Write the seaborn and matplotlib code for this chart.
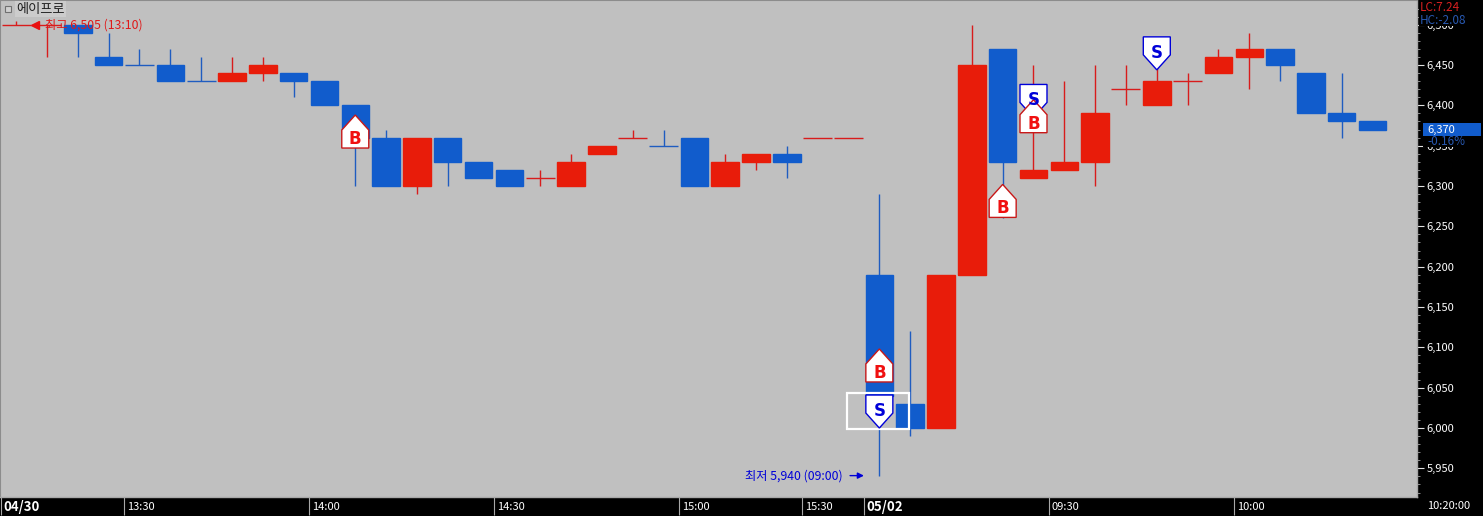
import numpy as np
import pandas as pd
import matplotlib
matplotlib.use("Agg")
import matplotlib.pyplot as plt
import seaborn as sns
from matplotlib.patches import Polygon, Rectangle

# 5 min candles, first one is 13:10 on 04/30
opens = [6500, 6500, 6500, 6460, 6450, 6450, 6430, 6430, 6440, 6440, 6430, 6400,
         6360, 6300, 6360, 6330, 6320, 6310, 6300, 6340, 6360, 6350, 6360, 6300,
         6330, 6340, 6360, 6360, 6190, 6030, 6000, 6190, 6470, 6310, 6320, 6330,
         6420, 6400, 6430, 6440, 6460, 6470, 6440, 6390, 6380]
closes = [6500, 6500, 6490, 6450, 6450, 6430, 6430, 6440, 6450, 6430, 6400, 6360,
          6300, 6360, 6330, 6310, 6300, 6310, 6330, 6350, 6360, 6350, 6300, 6330,
          6340, 6330, 6360, 6360, 6040, 6000, 6190, 6450, 6330, 6320, 6330, 6390,
          6420, 6430, 6430, 6460, 6470, 6450, 6390, 6380, 6370]
highs = [6505, 6500, 6500, 6490, 6470, 6470, 6460, 6460, 6460, 6440, 6430, 6400,
         6370, 6360, 6360, 6330, 6320, 6320, 6340, 6350, 6370, 6370, 6360, 6340,
         6340, 6350, 6360, 6360, 6290, 6120, 6190, 6500, 6470, 6450, 6430, 6450,
         6450, 6450, 6440, 6470, 6490, 6470, 6440, 6440, 6380]
lows = [6500, 6460, 6460, 6450, 6450, 6430, 6430, 6430, 6430, 6410, 6400, 6300,
        6300, 6290, 6300, 6310, 6300, 6300, 6300, 6340, 6360, 6350, 6300, 6300,
        6320, 6310, 6360, 6360, 5940, 5990, 6000, 6190, 6260, 6310, 6320, 6300,
        6400, 6400, 6400, 6440, 6420, 6430, 6390, 6360, 6370]
is_red = [1, 1, 0, 0, 0, 0, 0, 1, 1, 0, 0, 0,
          0, 1, 0, 0, 0, 1, 1, 1, 1, 0, 0, 1,
          1, 0, 1, 1, 0, 0, 1, 1, 0, 1, 1, 1,
          1, 1, 1, 1, 1, 0, 0, 0, 0]

buy_idx = [11, 28, 32, 33]
buy_tip = [6388, 6098, 6302, 6407]
sell_idx = [33, 28, 37]
sell_tip = [6385, 6000, 6444]

price_ticks = list(range(5950, 6501, 50))
price_labels = [f"{p:,}" for p in price_ticks]
time_idx = [0, 4, 10, 16, 22, 26, 28, 34, 40]
time_labels = ["04/30", "13:30", "14:00", "14:30", "15:00", "15:30", "05/02", "09:30", "10:00"]

RED = "#e81c0a"
BLUE = "#115ccc"
RED_WICK = "#d81c1c"
BLUE_WICK = "#1f5cc0"
SIG_BLUE = "#0000d8"
GREY = "#c0c0c0"
FONT = ["Noto Sans CJK KR", "DejaVu Sans"]

sns.set_theme(style="white")
plt.rcParams["font.family"] = FONT

W, H = 1483, 516
fig = plt.figure(figsize=(W / 100, H / 100), dpi=100, facecolor="black")
ax = fig.add_axes([0, 19 / H, 1417 / W, 497 / H], facecolor=GREY)

df = pd.DataFrame({"open": opens, "close": closes, "high": highs, "low": lows, "red": is_red})
df["idx"] = df.index
df["bottom"] = df[["open", "close"]].min(axis=1)
df["height"] = (df["open"] - df["close"]).abs()
df["color"] = np.where(df["red"] == 1, RED, BLUE)
df["wick"] = np.where(df["red"] == 1, RED_WICK, BLUE_WICK)

ax.vlines(df["idx"], df["low"], df["high"], colors=df["wick"], linewidth=1.0, zorder=1)

# bodies
for red, color in [(1, RED), (0, BLUE)]:
    sub = df[(df["red"] == red) & (df["height"] > 0)]
    sns.barplot(x=sub["idx"].values, y=sub["height"].values, bottom=sub["bottom"].values,
                native_scale=True, orient="x", width=0.89, color=color, saturation=1,
                errorbar=None, linewidth=1, edgecolor=color, zorder=2, ax=ax)

# flat candles are just a line
flat = df[df["height"] == 0]
ax.hlines(flat["close"], flat["idx"] - 0.47, flat["idx"] + 0.47, colors=flat["wick"], linewidth=1.0, zorder=2)

ax.set_xlim(-0.524, 45.44)
ax.set_ylim(5914.5, 6530.6)
ax.set_xlabel("")
ax.set_ylabel("")

px_x = 1 / 30.83
px_y = 1 / 0.8067


def signal(i, tip, letter, edge, text_color, up):
    d = 1 if up else -1
    hw = 13.5 * px_x
    verts = [(i, tip), (i + hw, tip - d * 15 * px_y), (i + hw, tip - d * 33 * px_y),
             (i - hw, tip - d * 33 * px_y), (i - hw, tip - d * 15 * px_y)]
    ax.add_patch(Polygon(verts, closed=True, facecolor="white", edgecolor=edge, linewidth=1.0, zorder=5))
    offset = 24 if up else 17
    ax.text(i, tip - d * offset * px_y, letter, color=text_color, fontsize=12, fontweight="bold",
            family="DejaVu Sans", ha="center", va="center", zorder=6)


# selection box around the first candle of 05/02
ax.add_patch(Rectangle((26.95, 5999), 2.0, 45, fill=False, edgecolor="white", linewidth=1.6, zorder=4))

for i, tip in zip(sell_idx, sell_tip):
    signal(i, tip, "S", SIG_BLUE, SIG_BLUE, False)
for i, tip in zip(buy_idx, buy_tip):
    signal(i, tip, "B", "#c81818", "#f01010", True)

# right axis
ax.yaxis.tick_right()
ax.set_yticks(price_ticks)
ax.set_yticklabels(price_labels)
ax.set_yticks(range(5920, 6530, 10), minor=True)
ax.tick_params(axis="y", which="major", right=True, left=False, length=5, width=0.8, color="#e0e0e0",
               labelcolor="white", labelsize=8, pad=2)
ax.tick_params(axis="y", which="minor", right=True, left=False, length=2, width=0.7, color="#8c8c8c")

# bottom axis
ax.set_xticks([t - 0.5 for t in time_idx])
ax.set_xticklabels([])
ax.tick_params(axis="x", bottom=True, length=13, width=0.8, color="#a8a8a8")
for t, label in zip(time_idx, time_labels):
    bold = "/" in label
    ax.annotate(label, xy=(t - 0.5, 0), xycoords=("data", "axes fraction"), xytext=(2, -7),
                textcoords="offset points", color="white", fontsize=9.5 if bold else 8,
                fontweight="bold" if bold else "normal", va="center", ha="left", annotation_clip=False)

for name in ["left", "top"]:
    ax.spines[name].set_color("#8c8c8c")
    ax.spines[name].set_linewidth(1.5)
ax.spines["right"].set_color("#a8a8a8")
ax.spines["right"].set_linewidth(1)
ax.spines["bottom"].set_color("#a8a8a8")
ax.spines["bottom"].set_linewidth(1)

# high / low callouts
ax.text(0.95, 6500, "최고 6,505 (13:10)", color="#e01818", fontsize=8.8, va="center", ha="left", zorder=3)
ax.plot([0.6], [6500], marker="<", color="#e81010", markersize=6, linestyle="none", zorder=3)
ax.text(26.8, 5941, "최저 5,940 (09:00)", color=SIG_BLUE, fontsize=8.8, va="center", ha="right", zorder=3)
ax.annotate("", xy=(27.5, 5941), xytext=(27.05, 5941),
            arrowprops=dict(arrowstyle="-|>", color=SIG_BLUE, lw=1, mutation_scale=9, shrinkA=0, shrinkB=0))


def label(x, y, text, **kw):
    return fig.text(x / W, 1 - y / H, text, va="center", ha="left", zorder=12, **kw)


def box(x0, y0, x1, y1, color):
    fig.add_artist(Rectangle((x0 / W, 1 - y1 / H), (x1 - x0) / W, (y1 - y0) / H, transform=fig.transFigure,
                             facecolor=color, edgecolor="none", zorder=11))


label(16, 9, "에이프로", color="#202020", fontsize=9.5,
      bbox=dict(facecolor="#cccccc", edgecolor="none", pad=1))
fig.add_artist(Rectangle((5 / W, 1 - 12 / H), 6 / W, 6 / H, transform=fig.transFigure,
                         facecolor="#d0d0d0", edgecolor="#707070", linewidth=0.8, zorder=13))
# status texts sit on black and cut the tick labels behind them
box(1419, 1, 1483, 26, "black")
box(1423, 136, 1483, 147, "black")
box(1423, 123, 1481, 136, BLUE)
label(1420, 7.5, "LC:7.24", color="#d82020", fontsize=8.5)
label(1420, 20, "HC:-2.08", color="#2858b0", fontsize=8.5)
label(1427, 141.5, "-0.16%", color="#2858b0", fontsize=8.5)
label(1427, 129.5, "6,370", color="white", fontsize=8)
label(1427, 506, "10:20:00", color="white", fontsize=8)

fig.savefig("out.png", dpi=100, facecolor="black")
